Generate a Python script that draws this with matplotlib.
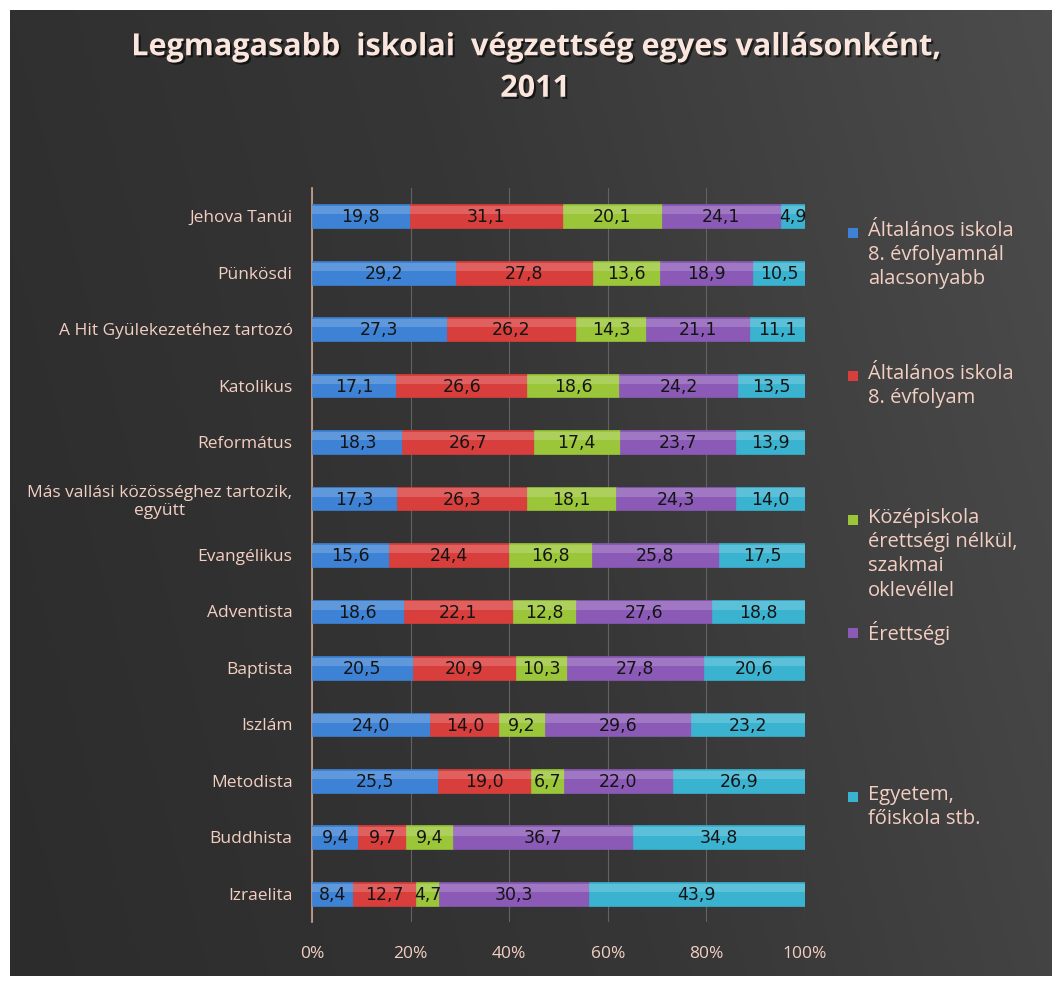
import matplotlib
matplotlib.use("Agg")
import matplotlib.pyplot as plt
import numpy as np
from matplotlib.patches import Rectangle
from matplotlib.colors import LinearSegmentedColormap
import matplotlib.patheffects as pe

categories = [
    "Jehova Tanúi",
    "Pünkösdi",
    "A Hit Gyülekezetéhez tartozó",
    "Katolikus",
    "Református",
    "Más vallási közösséghez tartozik,\negyütt",
    "Evangélikus",
    "Adventista",
    "Baptista",
    "Iszlám",
    "Metodista",
    "Buddhista",
    "Izraelita",
]

series_names = [
    "Általános iskola\n8. évfolyamnál\nalacsonyabb",
    "Általános iskola\n8. évfolyam",
    "Középiskola\nérettségi nélkül,\nszakmai\noklevéllel",
    "Érettségi",
    "Egyetem,\nfőiskola stb.",
]

also_below_8 = [19.8, 29.2, 27.3, 17.1, 18.3, 17.3, 15.6, 18.6, 20.5, 24.0, 25.5, 9.4, 8.4]
grade_8 = [31.1, 27.8, 26.2, 26.6, 26.7, 26.3, 24.4, 22.1, 20.9, 14.0, 19.0, 9.7, 12.7]
vocational = [20.1, 13.6, 14.3, 18.6, 17.4, 18.1, 16.8, 12.8, 10.3, 9.2, 6.7, 9.4, 4.7]
matura = [24.1, 18.9, 21.1, 24.2, 23.7, 24.3, 25.8, 27.6, 27.8, 29.6, 22.0, 36.7, 30.3]
university = [4.9, 10.5, 11.1, 13.5, 13.9, 14.0, 17.5, 18.8, 20.6, 23.2, 26.9, 34.8, 43.9]

x_ticks = [0, 20, 40, 60, 80, 100]
x_ticklabels = ["0%", "20%", "40%", "60%", "80%", "100%"]

colors = ["#3d82d4", "#d83e3b", "#9bc63a", "#8a5ab6", "#3ab3d1"]
text_col = "#f3cfc2"

W, H = 1061, 984
fig = plt.figure(figsize=(W / 100, H / 100), dpi=100)
fig.patch.set_facecolor("white")

# background panel with gradient
bg = fig.add_axes([10 / W, 8 / H, 1042 / W, 966 / H])
bg.set_axis_off()
cmap = LinearSegmentedColormap.from_list("bg", ["#2c2c2c", "#363636", "#4c4c4c"])
gx = np.linspace(0, 1, 300)
gy = np.linspace(0, 1, 300)
GX, GY = np.meshgrid(gx, gy)
grad = 0.8 * GX + 0.2 * (1 - GY)
bg.imshow(grad, cmap=cmap, aspect="auto", extent=[0, 1, 0, 1], origin="upper")
bg.set_xlim(0, 1)
bg.set_ylim(0, 1)

ax = fig.add_axes([312 / W, 62 / H, 493 / W, 734 / H])
ax.set_facecolor("none")

data = np.array([also_below_8, grade_8, vocational, matura, university])
totals = data.sum(axis=0)
pct = data / totals * 100

n = len(categories)
y = np.arange(n)
left = np.zeros(n)
bh = 0.42
for i in range(len(series_names)):
    ax.barh(y, pct[i], left=left, height=bh, color=colors[i],
            edgecolor=colors[i], linewidth=0.5, zorder=3)
    # glossy highlight
    ax.barh(y - bh * 0.25, pct[i], left=left, height=bh * 0.35, color="white",
            alpha=0.18, linewidth=0, zorder=4)
    for j in range(n):
        ax.text(left[j] + pct[i][j] / 2, y[j] + 0.02,
                f"{data[i][j]:.1f}".replace(".", ","),
                ha="center", va="center", fontsize=12.5, color="#141414",
                zorder=5)
    left += pct[i]

ax.set_ylim(n - 0.5, -0.5)
ax.set_xlim(0, 100)
ax.set_yticks(y)
ax.set_yticklabels(categories, fontsize=12.5, color=text_col, family="Open Sans",
                   multialignment="center")
ax.set_xticks(x_ticks)
ax.set_xticklabels(x_ticklabels, fontsize=12.5, color=text_col, family="Open Sans")
ax.tick_params(axis="y", length=0, pad=14)
ax.tick_params(axis="x", length=0, pad=17)
ax.grid(axis="x", color="#626262", linewidth=0.8, zorder=0)
for s in ["top", "right", "bottom"]:
    ax.spines[s].set_visible(False)
ax.spines["left"].set_color("#c9a394")
ax.spines["left"].set_linewidth(1.2)
ax.spines["left"].set_zorder(2)

# title
title_fx = [pe.withSimplePatchShadow(offset=(1.5, -1.5), shadow_rgbFace="black", alpha=0.6)]
fig.text(535 / W, 1 - 68 / H,
         "Legmagasabb  iskolai  végzettség egyes vallásonként,\n2011",
         ha="center", va="center", fontsize=22, fontweight="bold",
         color="#fbe6de", family="Open Sans", linespacing=1.5,
         path_effects=title_fx)

# legend
leg_y = [233, 376, 520, 633, 797]
for i, name in enumerate(series_names):
    yc = leg_y[i]
    fig.patches.append(Rectangle((848 / W, 1 - (yc + 5) / H), 10 / W, 10 / H,
                                 transform=fig.transFigure, facecolor=colors[i],
                                 edgecolor="none", figure=fig))
    fig.text(868 / W, 1 - (yc - 12) / H, name, ha="left", va="top",
             fontsize=14.5, color=text_col, family="Open Sans",
             linespacing=1.28)

fig.savefig("out.png", dpi=100, facecolor=fig.get_facecolor())
